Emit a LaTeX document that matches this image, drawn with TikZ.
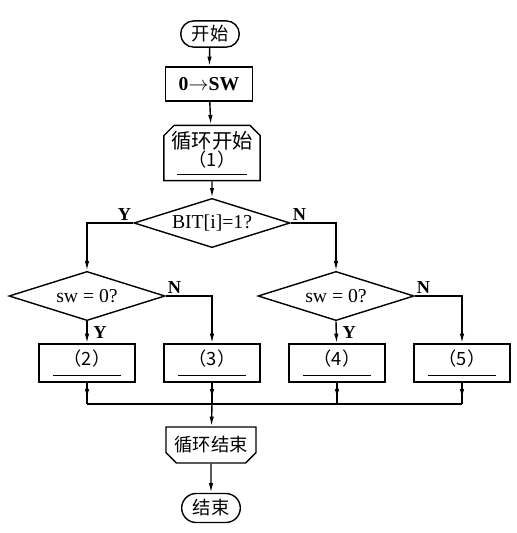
\documentclass[tikz,border=0pt]{standalone}
\usepackage{fontspec}
\setmainfont{Liberation Serif}
\newfontfamily\cjk{Noto Sans CJK SC}
\usetikzlibrary{shapes.geometric,shapes.misc,arrows.meta,decorations.markings}

\begin{document}
\begin{tikzpicture}[
  x=0.25mm, y=-0.25mm,
  >={Latex[length=2.4mm,width=1.1mm]},
  every node/.style={font=\fontsize{14}{16}\selectfont},
  term/.style={rounded rectangle,draw,line width=1pt,minimum width=17mm,minimum height=6.5mm,font=\cjk\fontsize{13}{15}\selectfont},
  proc/.style={draw,line width=1pt,minimum width=24mm,minimum height=9.5mm,align=center,inner sep=1pt},
  loopbox/.style={chamfered rectangle,draw,line width=1pt,chamfered rectangle xsep=1.5mm,
    minimum width=22.5mm,align=center,inner sep=1pt,font=\cjk\fontsize{13}{15}\selectfont},
  test/.style={diamond,draw,line width=1pt,aspect=3.2,inner sep=0pt,minimum width=39mm,minimum height=12.3mm},
  lbl/.style={font=\bfseries\fontsize{13}{15}\selectfont,inner sep=1pt},
  flow/.style={->,line width=1pt},
  midflow/.style={line width=1pt,postaction={decorate},
    decoration={markings,mark=at position .75 with {\arrow{>}}}}
]
  \useasboundingbox (0,0) rectangle (517,533);

  \node[term] (start) at (210,34) {开始};
  \node[proc,minimum width=21.75mm,minimum height=8.5mm,font=\bfseries\fontsize{14}{16}\selectfont] (init) at (209,84) {0$\rightarrow$SW};
  \node[loopbox,chamfered rectangle corners={north west,north east},minimum height=11.5mm,
    font=\cjk\fontsize{14.5}{16}\selectfont] (loopA) at (212,153)
    {循环开始\\[-3pt]{\fontsize{13}{15}\selectfont（1）}\\[-10pt]\rule{17.5mm}{0.7pt}};
  \node[test] (bit) at (212,223) {BIT[i]=1?};

  \node[test] (swl) at (87,296) {sw = 0?};
  \node[test] (swr) at (336,296) {sw = 0?};

  \node[proc] (s2) at (87,363) {{\cjk\fontsize{13}{15}\selectfont（2）}\\[-9pt]\rule{17mm}{0.7pt}};
  \node[proc] (s3) at (212,363) {{\cjk\fontsize{13}{15}\selectfont（3）}\\[-9pt]\rule{17mm}{0.7pt}};
  \node[proc] (s4) at (337,363) {{\cjk\fontsize{13}{15}\selectfont（4）}\\[-9pt]\rule{17mm}{0.7pt}};
  \node[proc] (s5) at (462,363) {{\cjk\fontsize{13}{15}\selectfont（5）}\\[-9pt]\rule{17mm}{0.7pt}};

  \coordinate (j2) at (87,404);
  \coordinate (j3) at (212,404);
  \coordinate (j4) at (337,404);
  \coordinate (j5) at (462,404);

  \node[loopbox,chamfered rectangle corners={south west,south east},minimum height=9mm] (loopB) at (211,445) {循环结束};
  \node[term,minimum height=7.25mm] (stop) at (211,508) {结束};

  \draw[flow] (start) -- (init);
  \draw[flow] (init) -- (loopA);
  \draw[flow] (loopA) -- (bit);
  \draw[flow] (bit.west) node[lbl,above left] {Y} -| (swl.north);
  \draw[flow] (bit.east) node[lbl,above right] {N} -| (swr.north);
  \draw[flow] (swl.south) -- node[lbl,right=3pt] {Y} (s2);
  \draw[flow] (swl.east) node[lbl,above right] {N} -| (s3.north);
  \draw[flow] (swr.south) -- node[lbl,right=3pt] {Y} (s4);
  \draw[flow] (swr.east) node[lbl,above right] {N} -| (s5.north);

  \draw[midflow] (s2) -- (j2);
  \draw[midflow] (s3) -- (j3);
  \draw[midflow] (s4) -- (j4);
  \draw[midflow] (s5) -- (j5);
  \draw[line width=1pt] (j2) -- (j5);
  \draw[flow] (j3) -- (loopB);
  \draw[flow] (loopB) -- (stop);
\end{tikzpicture}
\end{document}
